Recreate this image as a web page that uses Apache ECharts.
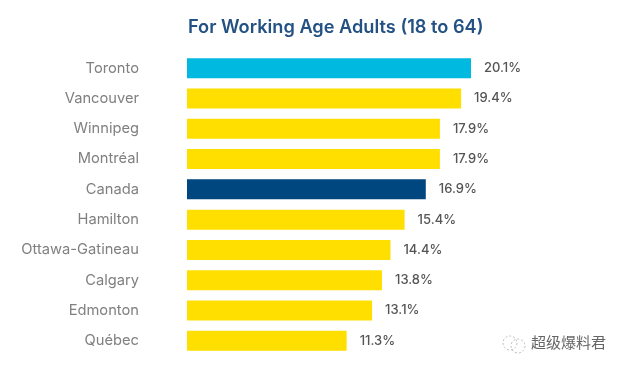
<!DOCTYPE html>
<html>
<head>
<meta charset="utf-8">
<style>html,body{margin:0;padding:0;background:#fff}#chart-container{width:625px;height:372px}</style>
<script src="https://cdn.jsdelivr.net/npm/echarts@6/dist/echarts.min.js"></script>
</head>
<body>
<div id="chart-container"></div>
<script>
const cities = ["Toronto","Vancouver","Winnipeg","Montréal","Canada","Hamilton","Ottawa-Gatineau","Calgary","Edmonton","Québec"];
const rates = [20.1,19.4,17.9,17.9,16.9,15.4,14.4,13.8,13.1,11.3];
const barColors = ["#00b9e0","#ffdf00","#ffdf00","#ffdf00","#00467f","#ffdf00","#ffdf00","#ffdf00","#ffdf00","#ffdf00"];

let myChart = echarts.init(document.getElementById("chart-container"), null, {renderer: "canvas"});
let option = {
    animation: false,
    title: {
        text: "For Working Age Adults (18 to 64)",
        left: 183, top: 14,
        textStyle: {color: "#235183", fontSize: 18.2, fontWeight: 600, fontFamily: "Inter"},
    },
    grid: {left: 187, top: 53, width: 284, height: 303},
    xAxis: {type: "value", min: 0, max: 20.1, show: false},
    yAxis: {
        type: "category",
        inverse: true,
        data: cities,
        axisLine: {show: false},
        axisTick: {show: false},
        axisLabel: {color: "#808080", fontSize: 14.7, fontFamily: "Inter", margin: 48},
    },
    series: [{
        type: "bar",
        barWidth: 20,
        data: rates.map((v, i) => ({value: v, itemStyle: {color: barColors[i]}})),
        label: {
            show: true, position: "right", distance: 13,
            color: "#555", fontSize: 13, fontWeight: 500, fontFamily: "Inter",
            formatter: p => p.value.toFixed(1) + "%",
        },
    }],
    graphic: [
        {type: "circle", shape: {cx: 510, cy: 343, r: 7}, style: {fill: "none", stroke: "#bbb", lineDash: [2, 2]}},
        {type: "circle", shape: {cx: 518, cy: 346, r: 7}, style: {fill: "none", stroke: "#bbb", lineDash: [2, 2]}},
        {
            type: "text", left: 531, top: 335,
            style: {text: "超级爆料君", fill: "#666", font: "15px 'Noto Sans CJK SC'"},
        },
    ],
};
myChart.setOption(option);
window.addEventListener("resize", myChart.resize);
</script>
</body>
</html>
